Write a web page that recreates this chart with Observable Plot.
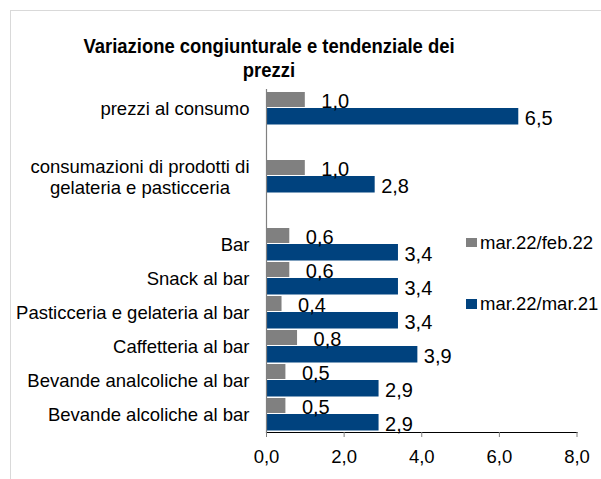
<!DOCTYPE html>
<html>
<head>
<meta charset="utf-8">
<script src="https://cdn.jsdelivr.net/npm/d3@7"></script>
<script src="https://cdn.jsdelivr.net/npm/@observablehq/plot@0.6"></script>
<style>
  html, body { margin: 0; padding: 0; background: #fff; overflow: hidden; }
  body { width: 601px; height: 479px; position: relative; font-family: "Liberation Sans", Arial, sans-serif; }
  #frame { position: absolute; left: 9.5px; top: 9.5px; width: 700px; height: 600px; border: 1px solid #d9d9d9; box-sizing: border-box; }
  #title { position: absolute; left: 0; top: 33.6px; width: 538px; text-align: center; font-weight: bold; font-size: 20.5px; line-height: 24px; color: #000; transform: scaleX(0.9); transform-origin: 269px 0; }
  #chart { position: absolute; left: 0; top: 0; }
  .leg { position: absolute; left: 466px; display: flex; align-items: center; font-size: 18.5px; line-height: 20px; color: #000; }
  .leg .sw { width: 10.5px; height: 9.5px; margin-right: 3.5px; }
</style>
</head>
<body>
<div id="frame"></div>
<div id="chart"></div>
<div id="title">Variazione congiunturale e tendenziale dei<br>prezzi</div>
<div id="legend"></div>
<script>
const categories = [
  "prezzi al consumo",
  "consumazioni di prodotti di\ngelateria e pasticceria",
  "Bar",
  "Snack al bar",
  "Pasticceria e gelateria al bar",
  "Caffetteria al bar",
  "Bevande analcoliche al bar",
  "Bevande alcoliche al bar"
];
const yDomain = [
  "prezzi al consumo", "gap1",
  "consumazioni di prodotti di\ngelateria e pasticceria", "gap2",
  "Bar", "Snack al bar", "Pasticceria e gelateria al bar",
  "Caffetteria al bar", "Bevande analcoliche al bar", "Bevande alcoliche al bar"
];
const seriesNames = ["mar.22/feb.22", "mar.22/mar.21"];
const seriesColors = ["#808080", "#00427E"];
const febValues = [1.0, 1.0, 0.6, 0.6, 0.4, 0.8, 0.5, 0.5];
const marValues = [6.5, 2.8, 3.4, 3.4, 3.4, 3.9, 2.9, 2.9];
const xTicks = [0, 2, 4, 6, 8];

const fmt = v => v.toFixed(1).replace(".", ",");
const data = categories.map((c, i) => ({cat: c, feb: febValues[i], mar: marValues[i]}));

const plot = Plot.plot({
  width: 601,
  height: 479,
  marginTop: 89,
  marginBottom: 47,
  marginLeft: 266,
  marginRight: 24.5,
  style: {fontSize: "18.5px", fontFamily: "'Liberation Sans', Arial, sans-serif", color: "#000", background: "transparent"},
  x: {domain: [0, 8]},
  y: {domain: yDomain, padding: 0},
  marks: [
    Plot.barX(data, {x: "feb", y: "cat", fill: seriesColors[0], insetTop: 1, insetBottom: 18}),
    Plot.barX(data, {x: "mar", y: "cat", fill: seriesColors[1], insetTop: 17, insetBottom: 0.5}),
    Plot.text(data, {x: "feb", y: "cat", text: d => fmt(d.feb), dx: 16, dy: -6.5, textAnchor: "start", fill: "#000", fontSize: 20}),
    Plot.text(data, {x: "mar", y: "cat", text: d => fmt(d.mar), dx: 6, dy: 10, textAnchor: "start", fill: "#000", fontSize: 20}),
    Plot.frame({anchor: "bottom", stroke: "#000", strokeWidth: 1.2}),
    Plot.ruleX([0], {stroke: "#808080", strokeWidth: 1.2}),
    Plot.axisX({ticks: xTicks, tickSize: 5, tickPadding: 12, tickFormat: fmt, stroke: "#808080", fill: "#000", label: null}),
    Plot.axisY({tickSize: 0, tickPadding: 17, tickFormat: d => d.startsWith("gap") ? "" : d, lineHeight: 1.15, fill: "#000", label: null})
  ]
});
document.getElementById("chart").appendChild(plot);

// center the lines of multi-line category labels relative to each other
plot.querySelectorAll("text").forEach(t => {
  const spans = t.querySelectorAll("tspan");
  if (spans.length > 1) {
    const widths = Array.from(spans, s => s.getComputedTextLength());
    const W = Math.max(...widths);
    spans.forEach((s, i) => s.setAttribute("x", -(W - widths[i]) / 2));
  }
});

const legendTops = [232.7, 294];
const legend = document.getElementById("legend");
seriesNames.forEach((name, i) => {
  const item = document.createElement("div");
  item.className = "leg";
  item.style.top = legendTops[i] + "px";
  const sw = document.createElement("span");
  sw.className = "sw";
  sw.style.background = seriesColors[i];
  const label = document.createElement("span");
  label.textContent = name;
  item.appendChild(sw);
  item.appendChild(label);
  legend.appendChild(item);
});
</script>
</body>
</html>
